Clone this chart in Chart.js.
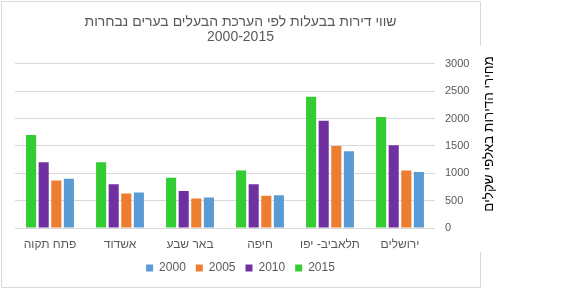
<!DOCTYPE html>
<html>
<head>
<meta charset="utf-8">
<script src="https://cdn.jsdelivr.net/npm/chart.js@4.4.1/dist/chart.umd.min.js"></script>
<style>
  body { margin: 0; background: #fff; }
</style>
</head>
<body>
<canvas id="priceChart" width="566" height="289"></canvas>
<script>
// cities, left to right as they appear on the chart
const cities = ['פתח תקוה', 'אשדוד', 'באר שבע', 'חיפה', 'תלאביב- יפו', 'ירושלים'];

// prices in thousands of shekels
const prices2015 = [1700, 1200, 920, 1050, 2400, 2030];
const prices2010 = [1200, 800, 675, 800, 1960, 1510];
const prices2005 = [870, 630, 540, 590, 1500, 1050];
const prices2000 = [900, 650, 555, 600, 1400, 1025];

const chartTitle = ['שווי דירות בבעלות לפי הערכת הבעלים בערים נבחרות', '2000-2015'];
const yTitle = 'מחירי הדירות באלפי שקלים';

const FONT = '"Liberation Sans", Arial, sans-serif';
const GREY = '#595959';

// frame round the chart, title/legend centred on it, rotated axis title
const framePlugin = {
    id: 'frame',
    afterLayout(chart) {
        for (const box of [chart.titleBlock, chart.legend]) {
            box.left = 1;
            box.right = 480;
            box.width = 479;
        }
    },
    beforeDraw(chart) {
        const ctx = chart.ctx;
        ctx.save();
        ctx.strokeStyle = '#d9d9d9';
        ctx.lineWidth = 1;
        ctx.beginPath();
        ctx.moveTo(480.5, 46);
        ctx.lineTo(480.5, 1.5);
        ctx.lineTo(1.5, 1.5);
        ctx.lineTo(1.5, 287.5);
        ctx.lineTo(480.5, 287.5);
        ctx.lineTo(480.5, 252);
        ctx.stroke();
        ctx.restore();
    },
    afterDraw(chart) {
        const ctx = chart.ctx;
        const area = chart.chartArea;
        ctx.save();
        ctx.translate(area.right + 54, (area.top + area.bottom) / 2 - 12);
        ctx.rotate(-Math.PI / 2);
        ctx.textAlign = 'center';
        ctx.textBaseline = 'middle';
        ctx.font = '13.5px ' + FONT;
        ctx.fillStyle = '#000';
        ctx.fillText(yTitle, 0, 0);
        ctx.restore();
    }
};

const ctx = document.getElementById('priceChart').getContext('2d');
const priceChart = new Chart(ctx, {
    type: 'bar',
    data: {
        labels: cities,
        datasets: [
            { label: '2015', data: prices2015, backgroundColor: '#33cc33' },
            { label: '2010', data: prices2010, backgroundColor: '#7030a0' },
            { label: '2005', data: prices2005, backgroundColor: '#ed7d31' },
            { label: '2000', data: prices2000, backgroundColor: '#5b9bd5' }
        ]
    },
    options: {
        responsive: false,
        animation: false,
        categoryPercentage: 0.72,
        barPercentage: 0.8,
        layout: { padding: { left: 15, right: 0, top: 0, bottom: 5 } },
        plugins: {
            title: {
                display: true,
                text: chartTitle,
                color: GREY,
                font: { family: FONT, size: 14, weight: 'normal', lineHeight: 1.1 },
                padding: { top: 14, bottom: 19 }
            },
            legend: {
                position: 'bottom',
                reverse: true,
                labels: {
                    color: GREY,
                    font: { family: FONT, size: 12 },
                    boxWidth: 7,
                    boxHeight: 7,
                    padding: 10
                }
            },
            tooltip: { enabled: false }
        },
        scales: {
            x: {
                grid: { display: false, drawTicks: false },
                border: { display: false },
                ticks: {
                    color: GREY,
                    font: { family: FONT, size: 12 },
                    padding: 9,
                    maxRotation: 0,
                    autoSkip: false
                },
                afterFit(scale) {
                    scale.height = 24;
                }
            },
            y: {
                position: 'right',
                min: 0,
                max: 3000,
                grid: { color: '#d9d9d9', drawTicks: false },
                border: { display: false },
                ticks: {
                    stepSize: 500,
                    color: GREY,
                    font: { family: FONT, size: 11 },
                    padding: 10,
                    callback: value => String(value)
                },
                afterFit(scale) {
                    scale.width = 131;
                }
            }
        }
    },
    plugins: [framePlugin]
});
</script>
</body>
</html>
